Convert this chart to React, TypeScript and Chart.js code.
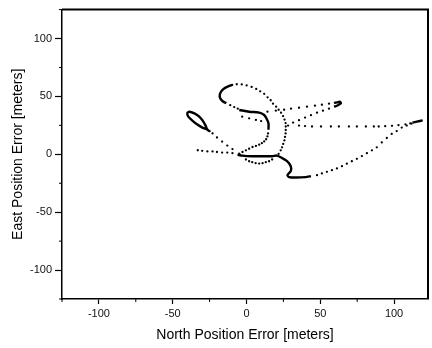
import { useEffect, useRef } from 'react';
import { Chart, registerables } from 'chart.js';

Chart.register(...registerables);

// Axis ticks
const xMajorTicks = [-100, -50, 0, 50, 100];
const yMajorTicks = [-100, -50, 0, 50, 100];
const xMinorTicks = [-125, -75, -25, 25, 75];
const yMinorTicks = [-125, -75, -25, 25, 75, 125];

// Trajectory, [north, east] in meters
const leftTail = [[-33, 3.5], [-30, 3], [-26.5, 2.5], [-23, 2.5], [-20, 2], [-16.5, 1.5], [-13, 1.5], [-9.5, 1]];
const leafDiagonal = [[-9.5, 4.5], [-13, 7.5], [-16.5, 11], [-20, 14.5], [-23, 18], [-25, 20]];
const leafLoop = [[-25, 20], [-26.6, 21.4], [-27.8, 25], [-29.9, 29.5], [-32, 32.5], [-35.3, 35.4], [-38.7, 36.8], [-40.1, 35.5], [-39.4, 32.5], [-36.7, 29.1], [-33.3, 25.7], [-29.9, 23.1], [-26.6, 21.4]];
const bottomThick = [[-6.1, -0.3], [-2.9, -1.1], [3.9, -1.7], [10.6, -1.7], [17.4, -1.7], [20.7, -1.1], [24.1, -3.2], [27.5, -6], [30, -10.3], [30, -14.6], [27.8, -18], [28.9, -19.7], [33.4, -20.1], [40.1, -19.7], [43.7, -18.8]];
const dipDots = [[-0.4, -4.5], [1.8, -6], [3.9, -6.8], [6.2, -7.7], [8.6, -8], [10.9, -7.7], [13.1, -6.8], [15.3, -6], [17.4, -4.5]];
const loopRightDots = [[21.8, 0.4], [23.2, 3.4], [24.1, 6], [24.9, 9], [25.7, 12], [26.1, 15], [26.5, 18], [26.6, 21], [26.6, 24], [26.5, 27], [25.8, 30], [24.8, 33], [23.4, 36], [21.8, 38.5], [20.1, 41.1], [18, 43.7], [16.4, 46.7], [14.3, 49.2], [12, 52.2], [9.3, 54.4], [6.6, 56.5], [3.5, 58.2], [0.1, 59.5], [-3.2, 60.4], [-6.6, 60.5], [-9.7, 59.9]];
const loopLeftThick = [[-9.7, 59.9], [-12.4, 58.6], [-15.1, 56.9], [-17.1, 54.4], [-18.1, 51.4], [-17.8, 48.4], [-16.1, 45.8], [-13.7, 44.1]];
const loopInnerDots = [[-11, 42.4], [-8.3, 40.8], [-5.9, 39.4]];
const sCurveThick = [[-4.9, 38.3], [1.8, 36.8], [8.6, 36], [12, 34], [13.5, 31.1], [14.9, 26.8], [14.9, 21.1]];
const sCurveDots = [[14.6, 18], [14.2, 15.4], [13.3, 13], [12, 11.1], [10.4, 9.6], [8.6, 8.3], [6.4, 7.2], [4.1, 6.3], [1.8, 4.8], [-0.4, 3.4], [-2.7, 2], [-4.9, 0.6]];
const innerParallelDots = [[-2.9, 32.5], [1.8, 31.1], [6.4, 29.7], [9.9, 28.7]];
const hookUpperDots = [[14.2, 36.8], [19.9, 37.7], [25.5, 38.5], [30.2, 39.4], [35.6, 40.2], [41, 41.1], [46.4, 42], [51.1, 42.8], [55.9, 43.7], [59.9, 44.5]];
const hookThick = [[59.9, 44.5], [61.3, 44.9], [63.3, 45.4], [64, 44.1], [62, 42.4], [59.3, 41.1]];
const hookReturnDots = [[55.9, 39.4], [51.8, 37.7], [47.8, 36], [43.7, 33.8], [39.7, 31.7], [35.6, 29.5], [31.6, 27.4], [28.2, 24.8]];
const midLineDots = [[35.6, 24.8], [39.7, 24.4], [44.4, 24], [50.5, 24], [57.2, 24], [62.6, 24], [69.4, 24], [74.8, 24], [80.9, 24], [86.3, 24], [89.6, 24], [94, 24.3], [98.6, 24.6], [103, 25.2], [107.7, 25.9], [111, 26.7]];
const rightTipThick = [[112.5, 27.3], [115.5, 28.2], [119.4, 29.3]];
const risingDots = [[47.8, -18], [51.1, -16.5], [54.5, -15.1], [57.9, -13.7], [61.3, -12.2], [64.7, -10.3], [68, -8.1], [71.4, -6], [74.8, -3.9], [78.2, -1.5], [81.6, 1], [85, 3.4], [88.3, 6], [91.7, 10.3], [95.1, 14.1], [98.4, 17.6], [101.8, 20.1], [105.2, 23.1], [108.6, 24.8], [111.9, 26.5]];

const dotSegments = [leftTail, leafDiagonal, dipDots, loopRightDots, loopInnerDots, sCurveDots, innerParallelDots, hookUpperDots, hookReturnDots, midLineDots, risingDots];
const thickSegments = [leafLoop, bottomThick, loopLeftThick, sCurveThick, hookThick, rightTipThick];

const FONT = '"Liberation Sans", Arial, sans-serif';

const toPts = (a: number[][]) => a.map(([x, y]) => ({ x, y }));

const framePlugin = {
  id: 'frame',
  afterDraw(chart: any) {
    const { ctx, chartArea } = chart;
    const { left, right, top, bottom } = chartArea;
    const xs = chart.scales.x;
    const ys = chart.scales.y;
    ctx.save();
    ctx.strokeStyle = '#000';
    ctx.lineWidth = 2;
    ctx.beginPath();
    ctx.moveTo(left, top);
    ctx.lineTo(right, top);
    ctx.lineTo(right, bottom);
    ctx.stroke();
    ctx.lineWidth = 1;
    ctx.beginPath();
    xMinorTicks.forEach((v) => {
      const p = xs.getPixelForValue(v);
      ctx.moveTo(p, bottom);
      ctx.lineTo(p, bottom + 3);
    });
    yMinorTicks.forEach((v) => {
      const p = ys.getPixelForValue(v);
      ctx.moveTo(left - 3, p);
      ctx.lineTo(left, p);
    });
    ctx.stroke();
    ctx.restore();
  },
};

export default function App() {
  const ref = useRef<HTMLCanvasElement>(null);
  useEffect(() => {
    document.body.style.margin = '0';
    const datasets: any[] = [
      {
        data: toPts(dotSegments.flat()),
        showLine: false,
        pointRadius: 1.15,
        pointBackgroundColor: '#000',
        pointBorderWidth: 0,
      },
      ...thickSegments.map((seg) => ({
        data: toPts(seg),
        showLine: true,
        borderColor: '#000',
        borderWidth: 2.4,
        pointRadius: 0,
        tension: 0.3,
        fill: false,
      })),
    ];
    const chart = new Chart(ref.current!, {
      type: 'scatter',
      data: { datasets },
      options: {
        animation: false,
        responsive: false,
        layout: { padding: { top: 7, right: 3, left: 0, bottom: 0 } },
        plugins: { legend: { display: false }, tooltip: { enabled: false } },
        scales: {
          x: {
            type: 'linear',
            min: -125,
            max: 123,
            afterBuildTicks: (s: any) => {
              s.ticks = xMajorTicks.map((v) => ({ value: v }));
            },
            afterFit: (s: any) => {
              s.height = 49;
            },
            grid: { drawOnChartArea: false, tickLength: 5, tickColor: '#000', tickWidth: 1.2 },
            border: { color: '#000', width: 1.5 },
            ticks: { font: { family: FONT, size: 11 }, color: '#111', padding: 3, maxRotation: 0 },
            title: {
              display: true,
              text: 'North Position Error [meters]',
              font: { family: FONT, size: 14 },
              color: '#000',
              padding: { top: 0, bottom: 4 },
            },
          },
          y: {
            type: 'linear',
            min: -125,
            max: 125,
            afterBuildTicks: (s: any) => {
              s.ticks = yMajorTicks.map((v) => ({ value: v }));
            },
            afterFit: (s: any) => {
              s.width = 62;
            },
            grid: { drawOnChartArea: false, tickLength: 7, tickColor: '#000', tickWidth: 1.2 },
            border: { color: '#000', width: 1.5 },
            ticks: { font: { family: FONT, size: 11 }, color: '#111', padding: 3 },
            title: {
              display: true,
              text: 'East Position Error [meters]',
              font: { family: FONT, size: 14 },
              color: '#000',
              padding: { top: 10, bottom: 0 },
            },
          },
        },
      },
      plugins: [framePlugin],
    });
    return () => chart.destroy();
  }, []);
  return (
    <div style={{ width: 432, height: 348 }}>
      <canvas ref={ref} width={432} height={348} />
    </div>
  );
}
